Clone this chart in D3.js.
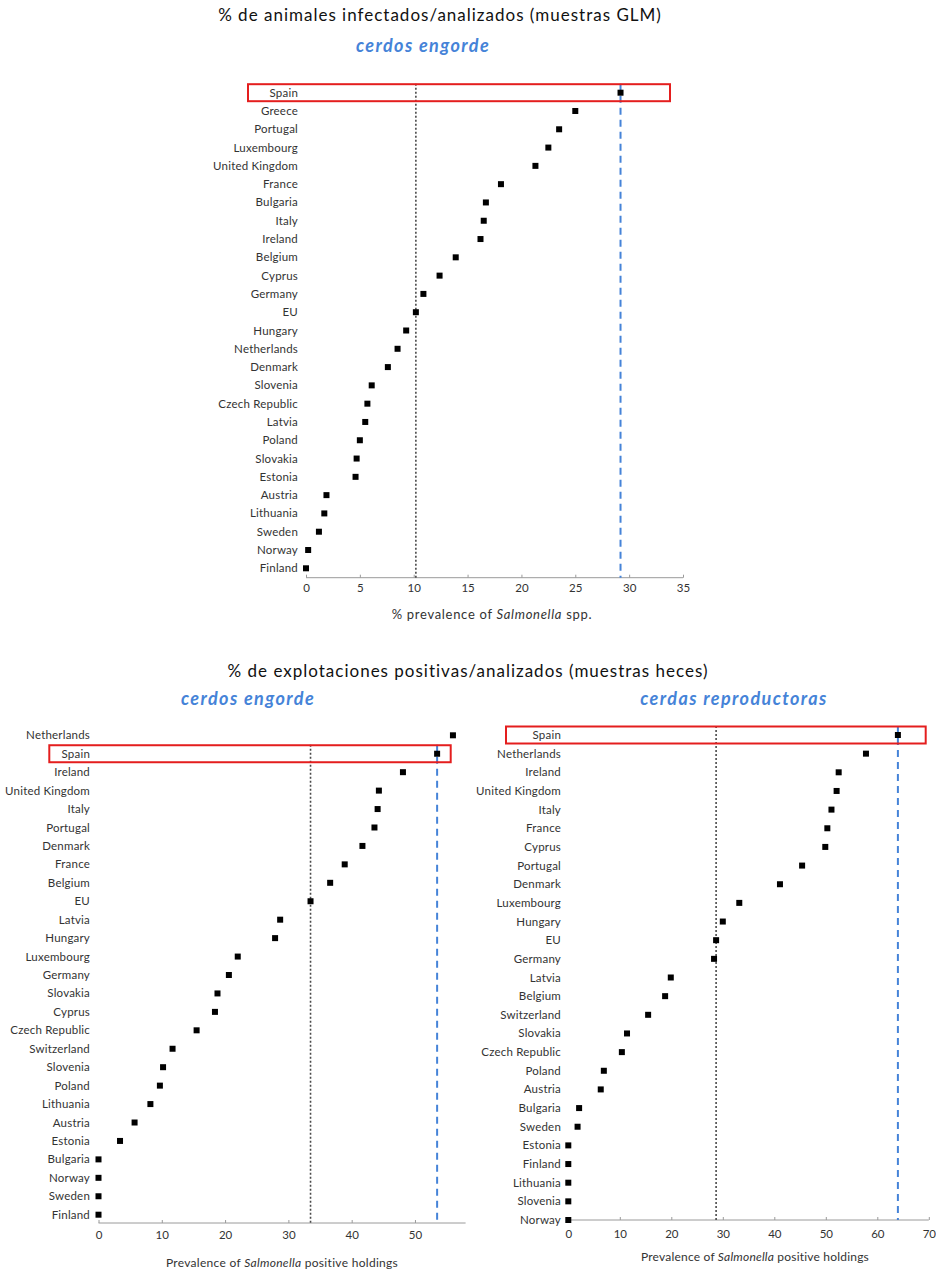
<!DOCTYPE html>
<html>
<head>
<meta charset="utf-8">
<script src="https://cdn.jsdelivr.net/npm/d3@7"></script>
<style>
  html, body { margin: 0; padding: 0; background: #fff; }
  svg { display: block; font-family: Lato, "Open Sans", sans-serif; }
</style>
</head>
<body>
<svg id="chart" width="936" height="1269"></svg>
<script>
// Salmonella prevalence in pigs, by country (top to bottom as listed)

// Fattening pigs, % infected animals (GLM samples)
const glmCountries = ["Spain", "Greece", "Portugal", "Luxembourg", "United Kingdom", "France",
  "Bulgaria", "Italy", "Ireland", "Belgium", "Cyprus", "Germany", "EU", "Hungary", "Netherlands",
  "Denmark", "Slovenia", "Czech Republic", "Latvia", "Poland", "Slovakia", "Estonia", "Austria",
  "Lithuania", "Sweden", "Norway", "Finland"];
const glmValues = [29.2, 25.0, 23.5, 22.5, 21.3, 18.1, 16.7, 16.5, 16.2, 13.9, 12.4, 10.9, 10.2,
  9.3, 8.5, 7.6, 6.1, 5.7, 5.5, 5.0, 4.7, 4.6, 1.9, 1.7, 1.2, 0.2, 0];
const glmTicks = [0, 5, 10, 15, 20, 25, 30, 35];

// Fattening pigs, % positive holdings (faecal samples)
const fatCountries = ["Netherlands", "Spain", "Ireland", "United Kingdom", "Italy", "Portugal",
  "Denmark", "France", "Belgium", "EU", "Latvia", "Hungary", "Luxembourg", "Germany", "Slovakia",
  "Cyprus", "Czech Republic", "Switzerland", "Slovenia", "Poland", "Lithuania", "Austria",
  "Estonia", "Bulgaria", "Norway", "Sweden", "Finland"];
const fatValues = [56.0, 53.5, 48.1, 44.3, 44.1, 43.6, 41.7, 38.9, 36.6, 33.5, 28.7, 27.9, 22.0,
  20.6, 18.8, 18.4, 15.5, 11.7, 10.2, 9.7, 8.2, 5.7, 3.4, 0, 0, 0, 0];
const fatTicks = [0, 10, 20, 30, 40, 50];

// Breeding sows, % positive holdings (faecal samples)
const sowCountries = ["Spain", "Netherlands", "Ireland", "United Kingdom", "Italy", "France",
  "Cyprus", "Portugal", "Denmark", "Luxembourg", "Hungary", "EU", "Germany", "Latvia", "Belgium",
  "Switzerland", "Slovakia", "Czech Republic", "Poland", "Austria", "Bulgaria", "Sweden",
  "Estonia", "Finland", "Lithuania", "Slovenia", "Norway"];
const sowValues = [64.0, 57.8, 52.5, 52.1, 51.1, 50.3, 49.9, 45.4, 41.1, 33.2, 30.0, 28.7, 28.3,
  19.9, 18.8, 15.5, 11.4, 10.4, 6.9, 6.3, 2.1, 1.8, 0, 0, 0, 0, 0];
const sowTicks = [0, 10, 20, 30, 40, 50, 60, 70];

const svg = d3.select("#chart");
const blue = "#4583d8";

// Headings
svg.append("text").attr("x", 440).attr("y", 21).attr("text-anchor", "middle")
  .attr("font-size", 17).attr("letter-spacing", 1).attr("fill", "#111")
  .text("% de animales infectados/analizados (muestras GLM)");
svg.append("text").attr("x", 468).attr("y", 677).attr("text-anchor", "middle")
  .attr("font-size", 17).attr("letter-spacing", 1).attr("fill", "#111")
  .text("% de explotaciones positivas/analizados (muestras heces)");

function dotPlot(cfg) {
  const g = svg.append("g");
  const x = d3.scaleLinear().domain(cfg.domain).range([cfg.x0, cfg.x1]);
  const y = d3.scalePoint().domain(cfg.countries).range([cfg.yFirst, cfg.yLast]);

  // Subtitle
  g.append("text").attr("x", cfg.subX).attr("y", cfg.subY).attr("text-anchor", "middle")
    .attr("font-size", 18).attr("letter-spacing", 1.4)
    .attr("font-style", "italic").attr("font-weight", "bold")
    .attr("fill", blue).text(cfg.subtitle);

  // x axis with inward ticks
  const axis = d3.axisBottom(x).tickValues(cfg.ticks).tickSize(-3)
    .tickPadding(cfg.tickPad).tickFormat(d3.format("d"));
  const ax = g.append("g").attr("transform", `translate(0,${cfg.axisY})`).call(axis);
  ax.select(".domain").attr("stroke", "#9a9a9a").attr("d", `M${cfg.x0},0H${cfg.x1}`);
  ax.selectAll(".tick line").attr("stroke", "#9a9a9a");
  ax.selectAll(".tick text").attr("font-size", 11.5).attr("fill", "#333")
    .attr("font-family", "Lato, sans-serif");

  // Axis title with italic genus name
  const t = g.append("text").attr("x", cfg.titleX).attr("y", cfg.titleY)
    .attr("text-anchor", "middle").attr("font-size", cfg.titleSize)
    .attr("letter-spacing", cfg.titleSpacing).attr("fill", "#333");
  t.append("tspan").text(cfg.xTitle[0]);
  t.append("tspan").attr("font-style", "italic").text(cfg.xTitle[1]);
  t.append("tspan").text(cfg.xTitle[2]);

  const spainVal = cfg.values[cfg.countries.indexOf("Spain")];
  const euVal = cfg.values[cfg.countries.indexOf("EU")];
  const lineTop = y("Spain") - 9;

  // EU reference (dotted) and Spain reference (blue dashed)
  g.append("line").attr("x1", x(euVal)).attr("x2", x(euVal))
    .attr("y1", lineTop).attr("y2", cfg.axisY)
    .attr("stroke", "#4a4a4a").attr("stroke-width", 1.6).attr("stroke-dasharray", "2,2");
  g.append("line").attr("x1", x(spainVal)).attr("x2", x(spainVal))
    .attr("y1", lineTop).attr("y2", cfg.axisY)
    .attr("stroke", blue).attr("stroke-width", 2).attr("stroke-dasharray", "7,5");

  // Country labels
  g.selectAll("text.lbl").data(cfg.countries).join("text").attr("class", "lbl")
    .attr("x", cfg.labelX).attr("y", d => y(d)).attr("dy", "0.35em")
    .attr("text-anchor", "end").attr("font-size", 11.5).attr("letter-spacing", 0.2)
    .attr("fill", "#333").text(d => d);

  // Markers
  const s = 6;
  g.selectAll("rect.pt").data(cfg.values).join("rect").attr("class", "pt")
    .attr("x", d => x(d) - s / 2).attr("y", (d, i) => y(cfg.countries[i]) - s / 2)
    .attr("width", s).attr("height", s).attr("fill", "#000");

  // Highlight box around Spain
  g.append("rect").attr("x", cfg.boxX0).attr("width", cfg.boxX1 - cfg.boxX0)
    .attr("y", y("Spain") - 8.5).attr("height", 17)
    .attr("fill", "none").attr("stroke", "#e41e1e").attr("stroke-width", 2);
}

dotPlot({
  countries: glmCountries, values: glmValues, ticks: glmTicks, domain: [0, 35],
  x0: 306, x1: 683, yFirst: 92.7, yLast: 568.3, axisY: 577.7, labelX: 298, tickPad: 6,
  subtitle: "cerdos engorde", subX: 423, subY: 52,
  xTitle: ["% prevalence of ", "Salmonella", " spp."], titleX: 492, titleY: 619,
  titleSize: 13, titleSpacing: 0.7,
  boxX0: 248, boxX1: 670
});

dotPlot({
  countries: fatCountries, values: fatValues, ticks: fatTicks, domain: [0, 58],
  x0: 98.5, x1: 465.6, yFirst: 735.3, yLast: 1214.7, axisY: 1223, labelX: 90, tickPad: 8,
  subtitle: "cerdos engorde", subX: 248, subY: 705,
  xTitle: ["Prevalence of ", "Salmonella", " positive holdings"], titleX: 282, titleY: 1267,
  titleSize: 12, titleSpacing: 0.3,
  boxX0: 49.3, boxX1: 450.7
});

dotPlot({
  countries: sowCountries, values: sowValues, ticks: sowTicks, domain: [0, 70],
  x0: 568.3, x1: 928.8, yFirst: 735, yLast: 1220, axisY: 1220, labelX: 561, tickPad: 10,
  subtitle: "cerdas reproductoras", subX: 734, subY: 705,
  xTitle: ["Prevalence of ", "Salmonella", " positive holdings"], titleX: 755, titleY: 1261,
  titleSize: 12, titleSpacing: 0.2,
  boxX0: 506, boxX1: 925.7
});
</script>
</body>
</html>
